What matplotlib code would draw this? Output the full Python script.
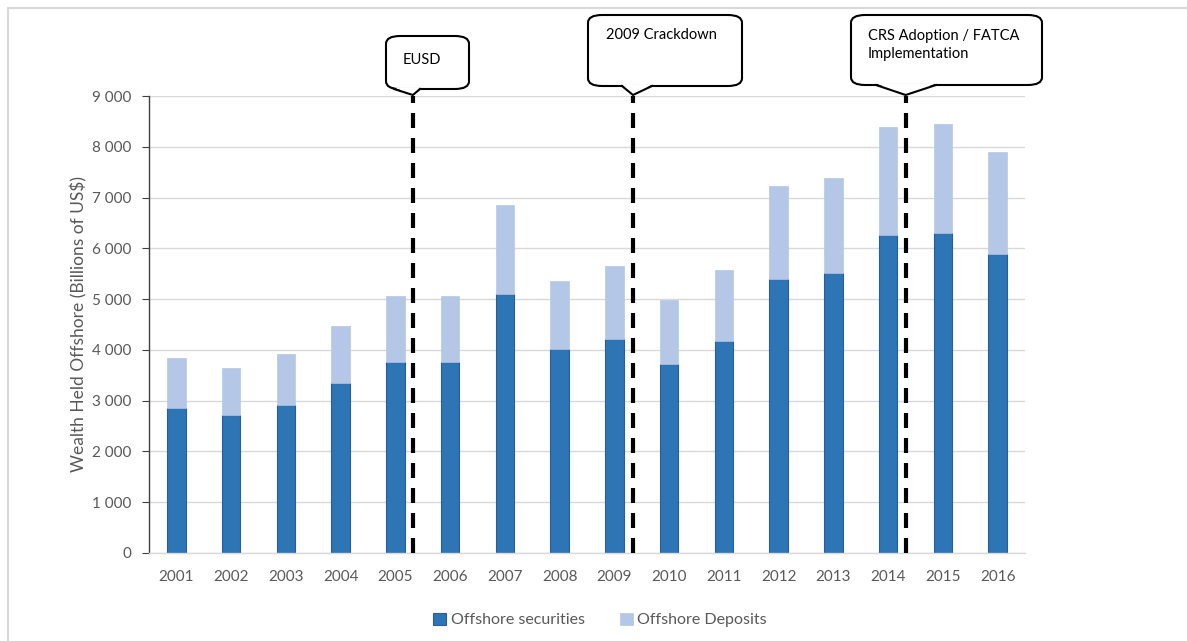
import matplotlib.pyplot as plt
import matplotlib.patches as mpatches
from matplotlib.lines import Line2D
from matplotlib.ticker import FuncFormatter
import numpy as np

plt.rcParams['font.family'] = ['Lato', 'DejaVu Sans']

# data (billions of US$)
years = ['2001', '2002', '2003', '2004', '2005', '2006', '2007', '2008',
         '2009', '2010', '2011', '2012', '2013', '2014', '2015', '2016']
securities = [2850, 2720, 2910, 3340, 3770, 3770, 5100, 4010,
              4220, 3720, 4170, 5390, 5520, 6260, 6300, 5890]
totals = [3850, 3650, 3910, 4480, 5060, 5060, 6850, 5360,
          5660, 4980, 5580, 7230, 7390, 8380, 8450, 7890]
deposits = [t - s for t, s in zip(totals, securities)]

# policy events: label, position on the category axis
events = ['EUSD', '2009 Crackdown', 'CRS Adoption / FATCA\nImplementation']
event_pos = [4.32, 8.34, 13.32]

W, H = 1187, 641
fig = plt.figure(figsize=(W / 100, H / 100), dpi=100)
ax = fig.add_axes([149 / W, 1 - 553 / H, (1025 - 149) / W, (553 - 96) / H])

x = np.arange(len(years))
c_sec = '#2E75B6'
c_dep = '#B4C7E7'
ax.bar(x, securities, width=0.34, color=c_sec, edgecolor='#2A5E9A', linewidth=0.8,
       label='Offshore securities', zorder=2)
ax.bar(x, deposits, width=0.34, bottom=securities, color=c_dep, edgecolor=c_dep,
       linewidth=0.5, label='Offshore Deposits', zorder=2)

ax.set_xlim(-0.5, len(years) - 0.5)
ax.set_ylim(0, 9000)
ax.set_yticks(range(0, 9001, 1000))
ax.yaxis.set_major_formatter(FuncFormatter(lambda v, p: f'{int(v):,}'.replace(',', ' ')))
ax.set_xticks(x)
ax.set_xticklabels(years)
ax.grid(axis='y', color='#D9D9D9', linewidth=1, zorder=0)
ax.set_axisbelow(True)

for s in ['top', 'right']:
    ax.spines[s].set_visible(False)
ax.spines['left'].set_color('#404040')
ax.spines['left'].set_linewidth(1)
ax.spines['bottom'].set_color('#D9D9D9')
ax.spines['bottom'].set_linewidth(1)
ax.tick_params(axis='y', length=5, color='#404040', labelsize=11, labelcolor='#595959', pad=8)
ax.tick_params(axis='x', length=0, labelsize=11, labelcolor='#595959', pad=12)
ax.set_ylabel('Wealth Held Offshore (Billions of US$)', fontsize=12.5, color='#595959', labelpad=3)

# dashed event lines
for p in event_pos:
    ax.axvline(p, ymin=0, ymax=1.0, color='black', linewidth=3, dashes=(3.6, 2.4),
               zorder=3, clip_on=False)

# callout boxes (pixel layout: left, right, top, bottom, pointer base left, right)
boxes = [(386, 469, 36, 89, 394, 420),
         (588, 742, 15, 86, 622, 652),
         (851, 1042, 15, 85, 876, 936)]
text_xy = [(403, 60), (606, 35), (868, 45)]
tip_y = 95


def fx(px):
    return px / W


def fy(py):
    return 1 - py / H


fig.canvas.draw()
for label, p, (l, r, t, b, bl, br), (tx, ty) in zip(events, event_pos, boxes, text_xy):
    tip_x = ax.transData.transform((p, 0))[0]
    box = mpatches.FancyBboxPatch((fx(l), fy(b)), fx(r - l), (b - t) / H,
                                  boxstyle=mpatches.BoxStyle('Round', pad=0, rounding_size=0.012),
                                  transform=fig.transFigure, facecolor='white',
                                  edgecolor='black', linewidth=1.5, zorder=5)
    fig.add_artist(box)
    # white wedge to open the bottom edge, then its two sides
    wedge = mpatches.Polygon([(fx(bl), fy(b - 1.5)), (fx(br), fy(b - 1.5)), (fx(tip_x), fy(tip_y))],
                             closed=True, transform=fig.transFigure, facecolor='white',
                             edgecolor='none', zorder=6)
    fig.add_artist(wedge)
    fig.add_artist(Line2D([fx(bl), fx(tip_x), fx(br)], [fy(b), fy(tip_y), fy(b)],
                          transform=fig.transFigure, color='black', linewidth=1.5, zorder=7))
    fig.text(fx(tx), fy(ty), label, fontsize=10.5, color='black', va='center', ha='left',
             linespacing=1.45, zorder=8)

# thin frame lines on the left and top
fig.add_artist(Line2D([fx(8), fx(8)], [0, fy(8)], transform=fig.transFigure, color='#D9D9D9', linewidth=1.5))
fig.add_artist(Line2D([fx(8), 1], [fy(8), fy(8)], transform=fig.transFigure, color='#D9D9D9', linewidth=1.5))

fig.legend(loc='center', bbox_to_anchor=(fx(600), fy(620)), ncol=2, frameon=False,
           fontsize=11.5, labelcolor='#595959', handlelength=0.8, handleheight=0.8,
           handletextpad=0.3, columnspacing=2.2)

fig.savefig('out.png', dpi=100)
